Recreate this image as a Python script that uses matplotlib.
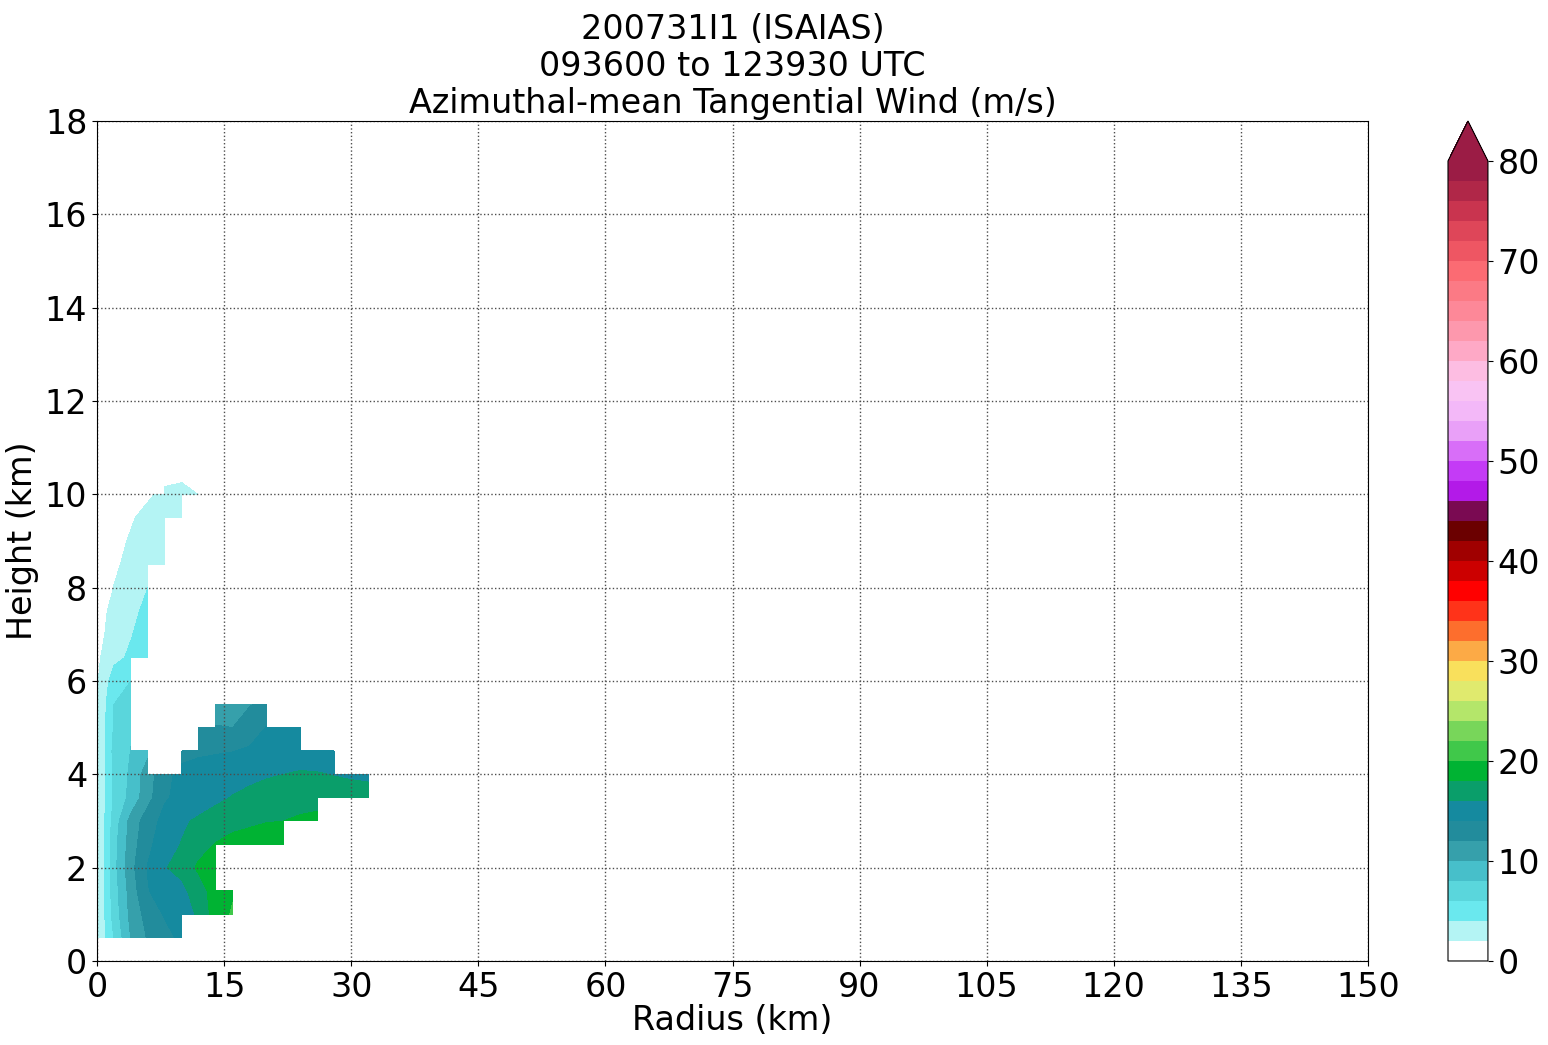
import numpy as np
import matplotlib
matplotlib.use("Agg")
import matplotlib.pyplot as plt
from matplotlib.colors import ListedColormap

N = np.nan

# ---- data ----
radius_km = np.arange(0, 152, 2)          # 0..150 km
height_km = np.arange(0, 18.5, 0.5)       # 0..18 km
data_radius = np.arange(0, 34, 2)          # columns of the rows below (0..32 km)

wind_z0_5 = [1.7, 6.1, 10.1, 12.2, 13.3, 14.5, N, N, N, N, N, N, N, N, N, N, N]
wind_z1_0 = [1.7, 6.8, 10.6, 12.8, 14.2, 15.0, 16.3, 19.0, 20.2, N, N, N, N, N, N, N, N]
wind_z1_5 = [1.7, 7.0, 10.9, 13.9, 15.0, 15.5, 17.0, 19.0, 19.8, N, N, N, N, N, N, N, N]
wind_z2_0 = [1.7, 7.3, 11.4, 14.1, 15.9, 16.6, 18.4, 19.9, N, N, N, N, N, N, N, N, N]
wind_z2_5 = [1.7, 7.3, 11.0, 13.6, 15.0, 16.1, 17.1, 18.1, 18.8, 19.0, 19.2, 19.0, N, N, N, N, N]
wind_z3_0 = [1.7, 6.8, 10.7, 13.1, 14.6, 15.7, 16.3, 16.8, 17.2, 17.6, 17.9, 18.0, 18.3, 18.5, N, N, N]
wind_z3_5 = [1.7, 6.3, 8.6, 11.3, 13.8, 14.5, 15.0, 15.6, 16.1, 16.5, 16.8, 17.0, 17.2, 17.3, 17.2, 17.0, 16.8]
wind_z4_0 = [1.7, 6.3, 8.4, 11.1, 13.4, 14.6, 15.0, 15.1, 15.2, 15.5, 15.8, 16.0, 16.3, 16.2, 15.9, 15.7, 15.6]
wind_z4_5 = [1.7, 6.6, 8.05, 9.5, N, 13.3, 13.6, 13.8, 13.95, 14.3, 14.6, 14.6, 14.5, 14.3, 14.1, N, N]
wind_z5_0 = [1.7, 6.2, 7.8, N, N, N, 12.5, 12.1, 12.0, 12.8, 14.1, 14.3, 14.2, N, N, N, N]
wind_z5_5 = [1.7, 6.0, 7.5, N, N, N, N, 11.2, 11.5, 11.9, 12.4, N, N, N, N, N, N]
wind_z6_0 = [1.8, 5.0, 6.0, N, N, N, N, N, N, N, N, N, N, N, N, N, N]
wind_z6_5 = [1.6, 3.5, 4.3, 5.0, N, N, N, N, N, N, N, N, N, N, N, N, N]
wind_z7_0 = [1.0, 3.2, 3.9, 4.8, N, N, N, N, N, N, N, N, N, N, N, N, N]
wind_z7_5 = [0.8, 2.8, 3.6, 4.4, N, N, N, N, N, N, N, N, N, N, N, N, N]
wind_z8_0 = [0.5, 2.05, 3.0, 4.0, N, N, N, N, N, N, N, N, N, N, N, N, N]
wind_z8_5 = [0.3, 1.7, 2.5, 3.2, 3.0, N, N, N, N, N, N, N, N, N, N, N, N]
wind_z9_0 = [0.2, 1.4, 2.2, 2.9, 3.0, N, N, N, N, N, N, N, N, N, N, N, N]
wind_z9_5 = [0.1, 1.0, 1.8, 2.6, 3.0, 3.0, N, N, N, N, N, N, N, N, N, N, N]
wind_z10_0 = [0.0, 0.5, 1.0, 1.7, 2.5, 2.9, 1.95, N, N, N, N, N, N, N, N, N, N]
wind_z10_5 = [N, N, N, N, 1.0, 1.1, 0.5, N, N, N, N, N, N, N, N, N, N]

data_heights = [0.5, 1.0, 1.5, 2.0, 2.5, 3.0, 3.5, 4.0, 4.5, 5.0, 5.5, 6.0,
                6.5, 7.0, 7.5, 8.0, 8.5, 9.0, 9.5, 10.0, 10.5]
data_rows = [wind_z0_5, wind_z1_0, wind_z1_5, wind_z2_0, wind_z2_5, wind_z3_0,
             wind_z3_5, wind_z4_0, wind_z4_5, wind_z5_0, wind_z5_5, wind_z6_0,
             wind_z6_5, wind_z7_0, wind_z7_5, wind_z8_0, wind_z8_5, wind_z9_0,
             wind_z9_5, wind_z10_0, wind_z10_5]

levels = np.arange(0, 82, 2)
colorbar_ticks = [0, 10, 20, 30, 40, 50, 60, 70, 80]
x_ticks = np.arange(0, 151, 15)
y_ticks = np.arange(0, 19, 2)

level_colors = [
    "#ffffff", "#b4f4f4", "#6ae8ee", "#5ad6dc", "#47bfca", "#36a0ab",
    "#228c9c", "#158a9f", "#0a9e6a", "#00b333", "#40c84a", "#78d65a",
    "#b4e66a", "#e0ea6e", "#f9e05c", "#fcaa46", "#fd6e2d", "#ff3319",
    "#ff0000", "#cc0000", "#a00000", "#6b0000", "#7a0a52", "#b31ae8",
    "#c43bf6", "#d86ef8", "#e9a0f8", "#f3b8f8", "#f9c3f3", "#fdbde2",
    "#fea9c6", "#fd98ad", "#fd8898", "#fb7a85", "#fb6b73", "#ee5663",
    "#de4659", "#c9344f", "#b02748", "#9b1c45",
]
over_color = "#9b1c45"

# ---- build field ----
field = np.full((len(height_km), len(radius_km)), np.nan)
for zval, row in zip(data_heights, data_rows):
    j = int(round(zval / 0.5))
    field[j, :len(row)] = np.array(row, dtype=float)

R, Z = np.meshgrid(radius_km, height_km)
field_m = np.ma.masked_invalid(field)

cmap = ListedColormap(level_colors)
cmap.set_over(over_color)

fig = plt.figure(figsize=(15.48, 10.45), dpi=100)
ax = fig.add_axes([0.0627, 0.0804, 0.8210, 0.8038])
cax = fig.add_axes([0.9354, 0.0804, 0.0258, 0.8038])

cf = ax.contourf(R, Z, field_m, levels=levels, cmap=cmap, extend="max",
                 corner_mask=False)

ax.set_xlim(0, 150)
ax.set_ylim(0, 18)
ax.set_xticks(x_ticks)
ax.set_yticks(y_ticks)
ax.tick_params(labelsize=24)
ax.grid(True, linestyle=":", color="0.3", linewidth=1.0)
ax.set_xlabel("Radius (km)", fontsize=24, labelpad=0)
ax.set_ylabel("Height (km)", fontsize=24, labelpad=4)
ax.set_title("200731I1 (ISAIAS)\n093600 to 123930 UTC\nAzimuthal-mean Tangential Wind (m/s)",
             fontsize=24, linespacing=1.15)

cb = fig.colorbar(cf, cax=cax, ticks=colorbar_ticks)
cb.ax.tick_params(labelsize=24)

fig.savefig("out.png", dpi=100)
